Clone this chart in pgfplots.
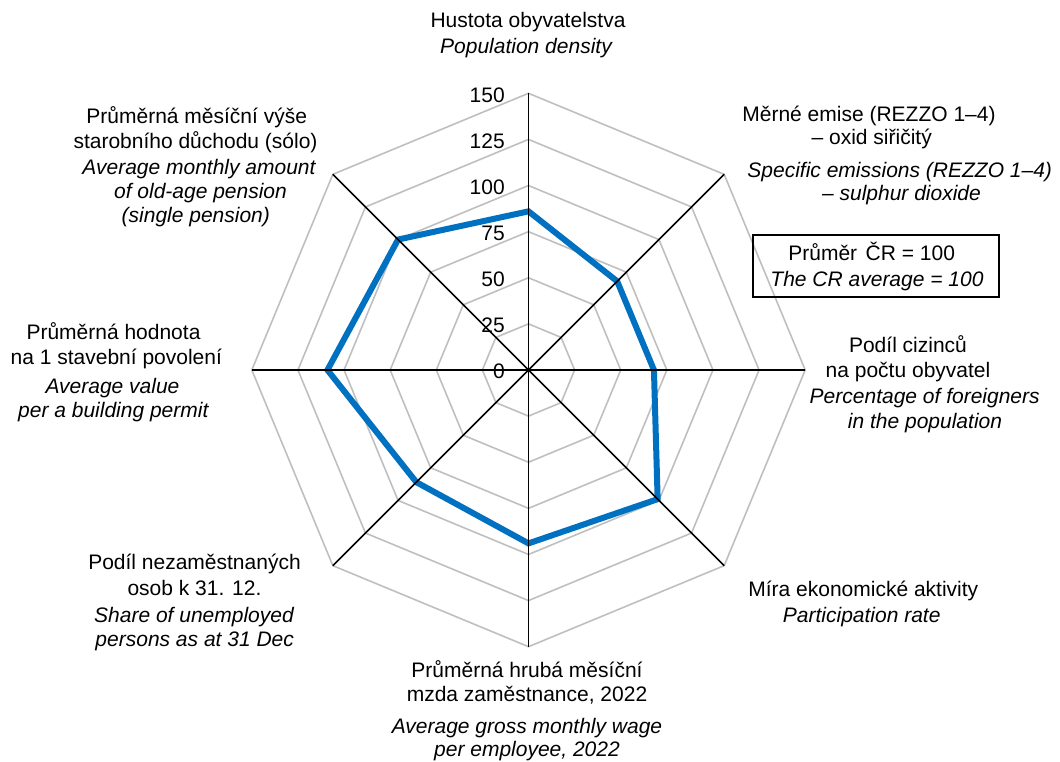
\documentclass[border=0pt]{standalone}
\usepackage{fontspec}
\setmainfont{Liberation Sans}
\usepackage{pgfplots}
\pgfplotsset{compat=1.18}
\definecolor{blueline}{RGB}{0,112,192}
\definecolor{gridgray}{RGB}{191,191,191}
\begin{document}
\fontsize{15.75pt}{19pt}\selectfont
\begin{tikzpicture}
\begin{axis}[at={(396.375pt,-277.5pt)}, anchor=origin,
  x=1.3835pt, y=1.3835pt,
  xmin=-150, xmax=150, ymin=-150, ymax=150,
  hide axis, clip=false, data cs=polar]
% octagonal grid
\pgfplotsinvokeforeach{25,50,75,100,125,150}{
  \addplot[gridgray, line width=1.2pt, mark=none] coordinates {(90,#1) (45,#1) (0,#1) (-45,#1) (-90,#1) (-135,#1) (180,#1) (135,#1) (90,#1)} -- cycle;
}
% data
\addplot[blueline, line width=4.5pt, mark=none] coordinates {
  (90,86) (45,68) (0,68) (-45,99) (-90,94) (-135,86) (180,109) (135,100) (90,86)} -- cycle;
% spokes
\addplot[black, line width=1.3pt, mark=none] coordinates {(90,150) (-90,150)};
\addplot[black, line width=1.3pt, mark=none] coordinates {(0,150) (180,150)};
\addplot[black, line width=1.3pt, mark=none] coordinates {(45,150) (-135,150)};
\addplot[black, line width=1.3pt, mark=none] coordinates {(135,150) (-45,150)};
\end{axis}
\begin{scope}[x=0.75pt, y=-0.75pt, lbl/.style={anchor=base, inner sep=0pt}, tl/.style={anchor=east, inner sep=0pt}]
% tick labels
\foreach \v in {0,25,50,75,100,125,150}{
  \node[tl] at (505, {370-\v*1.8447+1.5}) {\v};
}
% top
\node[lbl] at (528,27.3) {Hustota obyvatelstva};
\node[lbl] at (526,53.3) {\itshape Population density};
% NE
\node[lbl] at (869,122) {Měrné emise (REZZO 1–4)};
\node[lbl] at (871.7,145) {– oxid siřičitý};
\node[lbl] at (899.7,178) {\itshape Specific emissions (REZZO 1–4)};
\node[lbl] at (901.5,201) {\itshape – sulphur dioxide};
% box
\draw[line width=1.3pt] (752.7,235) rectangle (999,296.7);
\node[lbl] at (871.7,261) {Průměr\hspace{2pt} ČR = 100};
\node[lbl] at (877,286.7) {\itshape The CR average = 100};
% E
\node[lbl] at (908,353) {Podíl cizinců};
\node[lbl] at (908,378) {na počtu obyvatel};
\node[lbl] at (924.7,404) {\itshape Percentage of foreigners};
\node[lbl] at (925,429) {\itshape in the population};
% SE
\node[lbl] at (863.3,596) {Míra ekonomické aktivity};
\node[lbl] at (861.7,622.7) {\itshape Participation rate};
% S
\node[lbl] at (527,677.7) {Průměrná hrubá měsíční};
\node[lbl] at (527,701.7) {mzda zaměstnance, 2022};
\node[lbl] at (527,733.3) {\itshape Average gross monthly wage};
\node[lbl] at (527,756) {\itshape per employee, 2022};
% SW
\node[lbl] at (194.5,569.5) {Podíl nezaměstnaných};
\node[lbl] at (194.5,595) {osob k 31. 12.};
\node[lbl] at (194,622) {\itshape Share of unemployed};
\node[lbl] at (194.7,646) {\itshape persons as at 31 Dec};
% W
\node[lbl] at (113.5,340) {Průměrná hodnota};
\node[lbl] at (116.3,365) {na 1 stavební povolení};
\node[lbl] at (112.5,394) {\itshape Average value};
\node[lbl] at (113.3,418) {\itshape per a building permit};
% NW
\node[lbl] at (196.7,124) {Průměrná měsíční výše};
\node[lbl] at (195.5,149) {starobního důchodu (sólo)};
\node[lbl] at (199,175) {\itshape Average monthly amount};
\node[lbl] at (200.5,199) {\itshape of old-age pension};
\node[lbl] at (195.8,223) {\itshape (single pension)};
\end{scope}
\pgfresetboundingbox
\path[use as bounding box] (0,0) rectangle (795pt,-571.5pt);
\end{tikzpicture}
\end{document}
